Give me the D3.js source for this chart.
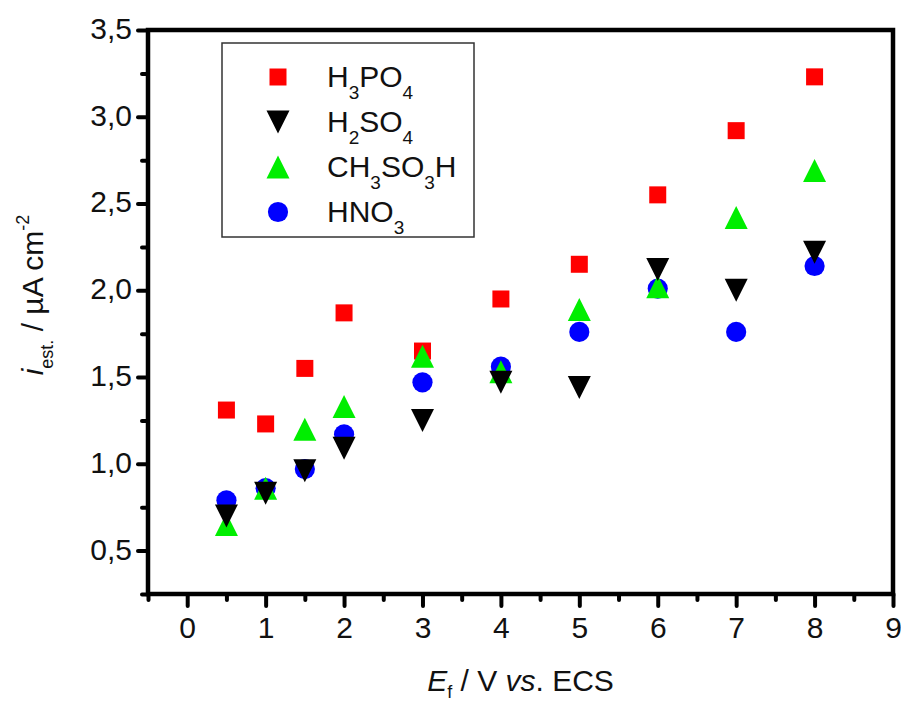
<!DOCTYPE html>
<html>
    <head>
        <meta charset="utf-8" />
        <script src="https://d3js.org/d3.v7.min.js"></script>
        <style>
            body {
                margin: 0;
                background: #fff;
            }

            text {
                font-family: "Liberation Sans", Arial, sans-serif;
                fill: #111;
            }

            .tick line {
                stroke: #000;
                stroke-linecap: round;
            }
        </style>
    </head>
    <body>
        <svg id="chart" width="901" height="702"></svg>
        <script>
            // potentials (V vs. ECS)
            var potentials = [0.5, 1, 1.5, 2, 3, 4, 5, 6, 7, 8];

            // estimated current density, uA cm-2
            var h3po4 = [1.31, 1.23, 1.55, 1.87, 1.65, 1.95, 2.15, 2.55, 2.92, 3.23];
            var h2so4 = [0.70, 0.83, 0.96, 1.09, 1.25, 1.47, 1.44, 2.12, 2.00, 2.22];
            var ch3so3h = [0.65, 0.86, 1.20, 1.33, 1.62, 1.53, 1.89, 2.02, 2.42, 2.69];
            var hno3 = [0.79, 0.86, 0.97, 1.17, 1.47, 1.56, 1.76, 2.01, 1.76, 2.14];

            var seriesNames = ["H3PO4", "H2SO4", "CH3SO3H", "HNO3"];
            var xTicks = [0, 1, 2, 3, 4, 5, 6, 7, 8, 9];
            var yTicks = [0.5, 1.0, 1.5, 2.0, 2.5, 3.0, 3.5];

            var svg = d3.select("#chart");

            var plotL = 148, plotR = 893, plotT = 30, plotB = 594;

            var x = d3.scaleLinear().domain([-0.5, 9]).range([plotL, plotR]);
            var y = d3.scaleLinear().domain([0.25, 3.5]).range([plotB, plotT]);

            var comma = d3.formatLocale({decimal: ",", thousands: ".", grouping: [3], currency: ["", ""]});
            var fmtY = comma.format(".1f");

            // custom triangles, bounding box centred on the point
            var triUp = {
                draw: function(ctx, size) {
                    var w = Math.sqrt(size);
                    ctx.moveTo(0, -w / 2);
                    ctx.lineTo(w / 2, w / 2);
                    ctx.lineTo(-w / 2, w / 2);
                    ctx.closePath();
                }
            };
            var triDown = {
                draw: function(ctx, size) {
                    var w = Math.sqrt(size);
                    ctx.moveTo(0, w / 2);
                    ctx.lineTo(w / 2, -w / 2);
                    ctx.lineTo(-w / 2, -w / 2);
                    ctx.closePath();
                }
            };

            var series = [
                {name: seriesNames[0], values: h3po4, color: "#ff0000", type: d3.symbolSquare, size: 289},
                {name: seriesNames[1], values: h2so4, color: "#000000", type: triDown, size: 529},
                {name: seriesNames[2], values: ch3so3h, color: "#00ee00", type: triUp, size: 529},
                {name: seriesNames[3], values: hno3, color: "#0000ff", type: d3.symbolCircle, size: 320}
            ];
            // drawing order seen in the picture: squares, circles, up triangles, down triangles
            var drawOrder = [0, 3, 2, 1];

            // minor ticks
            var xMinor = d3.range(-0.5, 9, 1);
            var yMinor = d3.range(0.25, 3.5, 0.5);

            var gx = svg.append("g").attr("transform", "translate(0," + plotB + ")");
            gx.append("g")
                .call(d3.axisBottom(x).tickValues(xMinor).tickSize(6).tickFormat(""))
                .call(function(g) { g.select(".domain").remove(); });
            gx.append("g")
                .call(d3.axisBottom(x).tickValues(xTicks).tickSize(12))
                .call(function(g) { g.select(".domain").remove(); });
            gx.selectAll(".tick line").attr("stroke-width", 4);
            gx.selectAll(".tick text")
                .attr("font-size", 30)
                .attr("y", 44)
                .attr("dy", 0)
                .attr("fill", "#111");

            var gy = svg.append("g").attr("transform", "translate(" + plotL + ",0)");
            gy.append("g")
                .call(d3.axisLeft(y).tickValues(yMinor).tickSize(6).tickFormat(""))
                .call(function(g) { g.select(".domain").remove(); });
            gy.append("g")
                .call(d3.axisLeft(y).tickValues(yTicks).tickSize(10).tickPadding(6).tickFormat(fmtY))
                .call(function(g) { g.select(".domain").remove(); });
            gy.selectAll(".tick line").attr("stroke-width", 4);
            gy.selectAll(".tick text")
                .attr("font-size", 30)
                .attr("dy", "0.28em")
                .attr("fill", "#111");

            // frame
            svg.append("rect")
                .attr("x", plotL)
                .attr("y", plotT)
                .attr("width", plotR - plotL)
                .attr("height", plotB - plotT)
                .attr("fill", "none")
                .attr("stroke", "#000")
                .attr("stroke-width", 4.5);

            // points
            drawOrder.forEach(function(k) {
                var s = series[k];
                svg.append("g").selectAll("path")
                    .data(s.values)
                    .enter().append("path")
                    .attr("transform", function(d, i) {
                        return "translate(" + x(potentials[i]) + "," + y(d) + ")";
                    })
                    .attr("d", d3.symbol().type(s.type).size(s.size))
                    .attr("fill", s.color);
            });

            // writes a chemical formula with subscripted digits
            function formula(textEl, name, size, subSize, shift) {
                var parts = name.match(/(\d+|\D+)/g);
                var down = false;
                parts.forEach(function(p) {
                    var isSub = /\d/.test(p);
                    var ts = textEl.append("tspan").text(p);
                    if (isSub) {
                        ts.attr("font-size", subSize);
                        if (!down) { ts.attr("dy", shift); down = true; }
                    } else {
                        ts.attr("font-size", size);
                        if (down) { ts.attr("dy", -shift); down = false; }
                    }
                });
            }

            // legend
            var legend = svg.append("g");
            legend.append("rect")
                .attr("x", 222)
                .attr("y", 43)
                .attr("width", 252)
                .attr("height", 194)
                .attr("fill", "#fff")
                .attr("stroke", "#333")
                .attr("stroke-width", 1.5);

            series.forEach(function(s, i) {
                var cy = 77 + i * 45;
                legend.append("path")
                    .attr("transform", "translate(278," + cy + ")")
                    .attr("d", d3.symbol().type(s.type).size(s.size))
                    .attr("fill", s.color);
                var t = legend.append("text")
                    .attr("x", 327)
                    .attr("y", cy + 10);
                formula(t, s.name, 30, 19, 12);
            });

            // axis titles
            var xt = svg.append("text")
                .attr("x", (plotL + plotR) / 2)
                .attr("y", 691)
                .attr("text-anchor", "middle")
                .attr("font-size", 30);
            xt.append("tspan").attr("font-style", "italic").text("E");
            xt.append("tspan").attr("font-size", 18).attr("dy", 7).text("f");
            xt.append("tspan").attr("dy", -7).text(" / V ");
            xt.append("tspan").attr("font-style", "italic").text("vs");
            xt.append("tspan").text(". ECS");

            var yt = svg.append("text")
                .attr("transform", "translate(43,295) rotate(-90)")
                .attr("text-anchor", "middle")
                .attr("font-size", 30);
            yt.append("tspan").attr("font-style", "italic").text("i");
            yt.append("tspan").attr("font-size", 18).attr("dy", 10).text("est.");
            yt.append("tspan").attr("dy", -10).text(" / \u00b5A cm");
            yt.append("tspan").attr("font-size", 18).attr("dy", -14).text("-2");
        </script>
    </body>
</html>
